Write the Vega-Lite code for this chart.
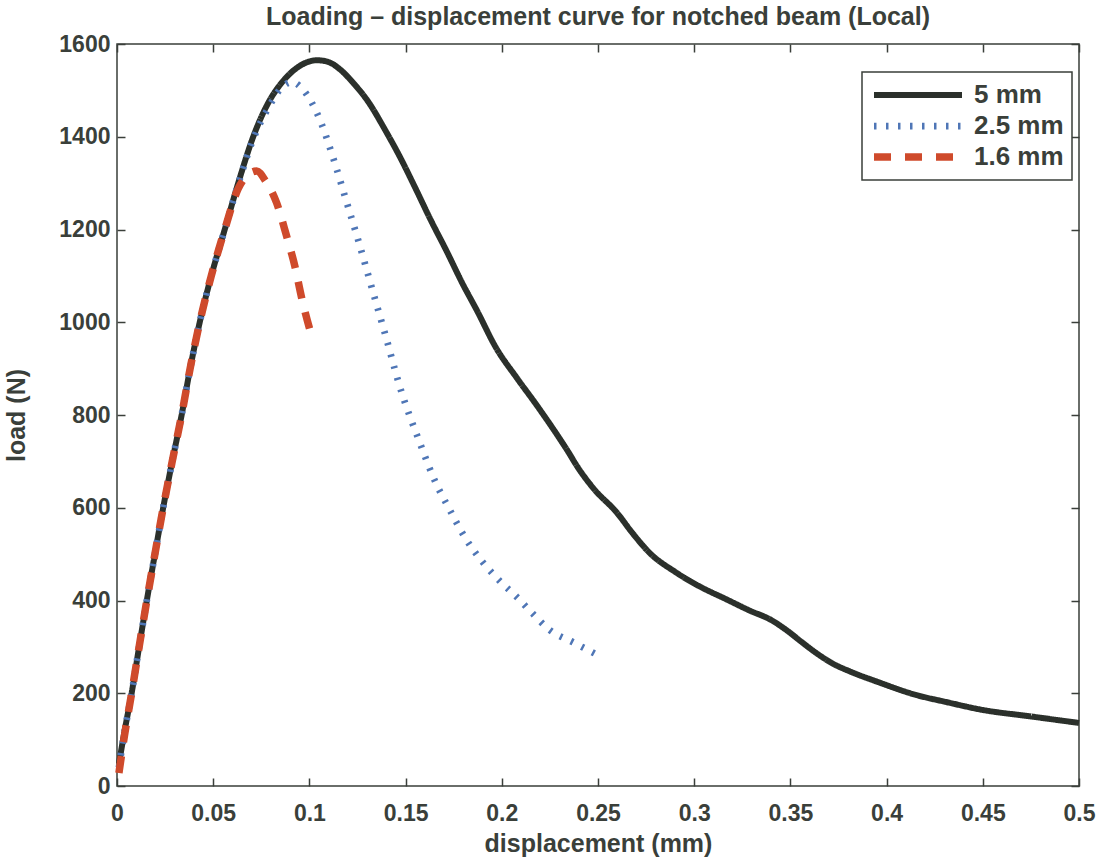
{
  "$schema": "https://vega.github.io/schema/vega-lite/v6.json",
  "width": 962,
  "height": 742,
  "autosize": {"type": "none"},
  "padding": {"left": 117, "top": 44, "right": 26, "bottom": 74},
  "background": "white",
  "title": {
    "text": "Loading – displacement curve for notched beam (Local)",
    "font": "Liberation Sans",
    "fontSize": 25,
    "fontWeight": "bold",
    "color": "#3a3f3a",
    "anchor": "middle",
    "offset": 3
  },
  "config": {
    "view": {"stroke": "#3a3f3a", "strokeWidth": 1.5},
    "legend": {"strokeWidth": 1.5},
    "axis": {
      "labelFont": "Liberation Sans",
      "labelFontSize": 23,
      "labelFontWeight": "bold",
      "labelColor": "#3a3f3a",
      "titleFont": "Liberation Sans",
      "titleFontSize": 25,
      "titleFontWeight": "bold",
      "titleColor": "#3a3f3a",
      "grid": false,
      "domain": false,
      "tickColor": "#3a3f3a",
      "tickWidth": 1.5,
      "tickSize": -8
    }
  },
  "data": {
    "values": [
      {"d": 0.001, "L": 48, "s": "5 mm"},
      {"d": 0.004, "L": 120, "s": "5 mm"},
      {"d": 0.0076, "L": 200, "s": "5 mm"},
      {"d": 0.0115, "L": 300, "s": "5 mm"},
      {"d": 0.0155, "L": 400, "s": "5 mm"},
      {"d": 0.0197, "L": 500, "s": "5 mm"},
      {"d": 0.024, "L": 600, "s": "5 mm"},
      {"d": 0.0287, "L": 700, "s": "5 mm"},
      {"d": 0.0336, "L": 800, "s": "5 mm"},
      {"d": 0.038, "L": 900, "s": "5 mm"},
      {"d": 0.043, "L": 1000, "s": "5 mm"},
      {"d": 0.049, "L": 1100, "s": "5 mm"},
      {"d": 0.056, "L": 1200, "s": "5 mm"},
      {"d": 0.063, "L": 1300, "s": "5 mm"},
      {"d": 0.0708, "L": 1400, "s": "5 mm"},
      {"d": 0.079, "L": 1476, "s": "5 mm"},
      {"d": 0.0863, "L": 1520, "s": "5 mm"},
      {"d": 0.094, "L": 1550, "s": "5 mm"},
      {"d": 0.104, "L": 1565, "s": "5 mm"},
      {"d": 0.11, "L": 1561, "s": "5 mm"},
      {"d": 0.116, "L": 1545, "s": "5 mm"},
      {"d": 0.123, "L": 1515, "s": "5 mm"},
      {"d": 0.13, "L": 1479, "s": "5 mm"},
      {"d": 0.14, "L": 1410, "s": "5 mm"},
      {"d": 0.147, "L": 1357, "s": "5 mm"},
      {"d": 0.155, "L": 1290, "s": "5 mm"},
      {"d": 0.163, "L": 1221, "s": "5 mm"},
      {"d": 0.171, "L": 1156, "s": "5 mm"},
      {"d": 0.18, "L": 1080, "s": "5 mm"},
      {"d": 0.187, "L": 1026, "s": "5 mm"},
      {"d": 0.197, "L": 945, "s": "5 mm"},
      {"d": 0.2078, "L": 880, "s": "5 mm"},
      {"d": 0.218, "L": 822, "s": "5 mm"},
      {"d": 0.228, "L": 762, "s": "5 mm"},
      {"d": 0.2337, "L": 726, "s": "5 mm"},
      {"d": 0.24, "L": 684, "s": "5 mm"},
      {"d": 0.248, "L": 640, "s": "5 mm"},
      {"d": 0.2597, "L": 590, "s": "5 mm"},
      {"d": 0.268, "L": 545, "s": "5 mm"},
      {"d": 0.277, "L": 502, "s": "5 mm"},
      {"d": 0.29, "L": 462, "s": "5 mm"},
      {"d": 0.303, "L": 430, "s": "5 mm"},
      {"d": 0.316, "L": 404, "s": "5 mm"},
      {"d": 0.329, "L": 378, "s": "5 mm"},
      {"d": 0.34, "L": 358, "s": "5 mm"},
      {"d": 0.348, "L": 336, "s": "5 mm"},
      {"d": 0.356, "L": 310, "s": "5 mm"},
      {"d": 0.3637, "L": 286, "s": "5 mm"},
      {"d": 0.372, "L": 264, "s": "5 mm"},
      {"d": 0.381, "L": 247, "s": "5 mm"},
      {"d": 0.395, "L": 225, "s": "5 mm"},
      {"d": 0.4156, "L": 196, "s": "5 mm"},
      {"d": 0.43, "L": 182, "s": "5 mm"},
      {"d": 0.45, "L": 164, "s": "5 mm"},
      {"d": 0.475, "L": 150, "s": "5 mm"},
      {"d": 0.5, "L": 136, "s": "5 mm"},

      {"d": 0.001, "L": 40, "s": "2.5 mm"},
      {"d": 0.004, "L": 118, "s": "2.5 mm"},
      {"d": 0.0076, "L": 200, "s": "2.5 mm"},
      {"d": 0.0115, "L": 300, "s": "2.5 mm"},
      {"d": 0.0155, "L": 400, "s": "2.5 mm"},
      {"d": 0.0197, "L": 500, "s": "2.5 mm"},
      {"d": 0.024, "L": 600, "s": "2.5 mm"},
      {"d": 0.0287, "L": 700, "s": "2.5 mm"},
      {"d": 0.0336, "L": 800, "s": "2.5 mm"},
      {"d": 0.038, "L": 900, "s": "2.5 mm"},
      {"d": 0.043, "L": 1000, "s": "2.5 mm"},
      {"d": 0.049, "L": 1100, "s": "2.5 mm"},
      {"d": 0.056, "L": 1200, "s": "2.5 mm"},
      {"d": 0.063, "L": 1298, "s": "2.5 mm"},
      {"d": 0.0708, "L": 1395, "s": "2.5 mm"},
      {"d": 0.079, "L": 1465, "s": "2.5 mm"},
      {"d": 0.086, "L": 1508, "s": "2.5 mm"},
      {"d": 0.0908, "L": 1518, "s": "2.5 mm"},
      {"d": 0.097, "L": 1500, "s": "2.5 mm"},
      {"d": 0.1055, "L": 1436, "s": "2.5 mm"},
      {"d": 0.1127, "L": 1350, "s": "2.5 mm"},
      {"d": 0.119, "L": 1264, "s": "2.5 mm"},
      {"d": 0.126, "L": 1168, "s": "2.5 mm"},
      {"d": 0.133, "L": 1066, "s": "2.5 mm"},
      {"d": 0.14, "L": 965, "s": "2.5 mm"},
      {"d": 0.147, "L": 861, "s": "2.5 mm"},
      {"d": 0.1575, "L": 739, "s": "2.5 mm"},
      {"d": 0.165, "L": 660, "s": "2.5 mm"},
      {"d": 0.173, "L": 595, "s": "2.5 mm"},
      {"d": 0.181, "L": 535, "s": "2.5 mm"},
      {"d": 0.19, "L": 483, "s": "2.5 mm"},
      {"d": 0.199, "L": 442, "s": "2.5 mm"},
      {"d": 0.2077, "L": 408, "s": "2.5 mm"},
      {"d": 0.216, "L": 372, "s": "2.5 mm"},
      {"d": 0.225, "L": 336, "s": "2.5 mm"},
      {"d": 0.237, "L": 310, "s": "2.5 mm"},
      {"d": 0.2495, "L": 283, "s": "2.5 mm"},

      {"d": 0.001, "L": 28, "s": "1.6 mm"},
      {"d": 0.004, "L": 112, "s": "1.6 mm"},
      {"d": 0.0076, "L": 200, "s": "1.6 mm"},
      {"d": 0.0115, "L": 300, "s": "1.6 mm"},
      {"d": 0.0155, "L": 400, "s": "1.6 mm"},
      {"d": 0.0197, "L": 500, "s": "1.6 mm"},
      {"d": 0.024, "L": 600, "s": "1.6 mm"},
      {"d": 0.0287, "L": 700, "s": "1.6 mm"},
      {"d": 0.0336, "L": 800, "s": "1.6 mm"},
      {"d": 0.038, "L": 900, "s": "1.6 mm"},
      {"d": 0.043, "L": 1000, "s": "1.6 mm"},
      {"d": 0.049, "L": 1100, "s": "1.6 mm"},
      {"d": 0.056, "L": 1200, "s": "1.6 mm"},
      {"d": 0.063, "L": 1288, "s": "1.6 mm"},
      {"d": 0.068, "L": 1318, "s": "1.6 mm"},
      {"d": 0.0726, "L": 1326, "s": "1.6 mm"},
      {"d": 0.077, "L": 1306, "s": "1.6 mm"},
      {"d": 0.083, "L": 1257, "s": "1.6 mm"},
      {"d": 0.088, "L": 1188, "s": "1.6 mm"},
      {"d": 0.0925, "L": 1120, "s": "1.6 mm"},
      {"d": 0.096, "L": 1052, "s": "1.6 mm"},
      {"d": 0.1013, "L": 968, "s": "1.6 mm"}
    ]
  },
  "layer": [
    {
      "mark": {"type": "line", "strokeCap": "butt", "strokeJoin": "round", "interpolate": "monotone"},
      "encoding": {
        "x": {
          "field": "d", "type": "quantitative",
          "scale": {"domain": [0, 0.5], "nice": false, "zero": false},
          "axis": {"values": [0, 0.05, 0.1, 0.15, 0.2, 0.25, 0.3, 0.35, 0.4, 0.45, 0.5], "format": "~g", "title": "displacement (mm)", "labelPadding": 24, "titlePadding": 6, "labelFlush": false}
        },
        "y": {
          "field": "L", "type": "quantitative",
          "scale": {"domain": [0, 1600], "nice": false},
          "axis": {"values": [0, 200, 400, 600, 800, 1000, 1200, 1400, 1600], "format": "d", "title": "load (N)", "labelPadding": 15, "titlePadding": 29, "labelFlush": false}
        },
        "color": {
          "field": "s", "type": "nominal",
          "scale": {"domain": ["5 mm", "2.5 mm", "1.6 mm"], "range": ["#2b302b", "#4f76b6", "#cf4a2b"]},
          "legend": {
            "orient": "none", "legendX": 745, "legendY": 28,
            "title": null,
            "strokeColor": "#3a3f3a", "fillColor": "white",
            "padding": 8,
            "labelFont": "Liberation Sans", "labelFontSize": 26, "labelFontWeight": "bold", "labelColor": "#3a3f3a",
            "symbolType": "stroke", "symbolSize": 7744, "clipHeight": 30, "rowPadding": 1, "labelOffset": 8
          }
        },
        "strokeDash": {
          "field": "s", "type": "nominal",
          "scale": {"domain": ["5 mm", "2.5 mm", "1.6 mm"], "range": [[1, 0], [2.5, 9.5], [17, 14]]}
        },
        "strokeWidth": {
          "field": "s", "type": "nominal",
          "scale": {"domain": ["5 mm", "2.5 mm", "1.6 mm"], "range": [6, 7.5, 9.5]}
        }
      }
    },
    {
      "mark": {"type": "line", "opacity": 0},
      "encoding": {
        "x": {"field": "d", "type": "quantitative", "axis": {"orient": "top", "values": [0, 0.05, 0.1, 0.15, 0.2, 0.25, 0.3, 0.35, 0.4, 0.45, 0.5], "labels": false, "title": null}},
        "y": {"field": "L", "type": "quantitative", "axis": {"orient": "right", "values": [0, 200, 400, 600, 800, 1000, 1200, 1400, 1600], "labels": false, "title": null}},
        "detail": {"field": "s"}
      }
    }
  ],
  "resolve": {"axis": {"x": "independent", "y": "independent"}}
}
